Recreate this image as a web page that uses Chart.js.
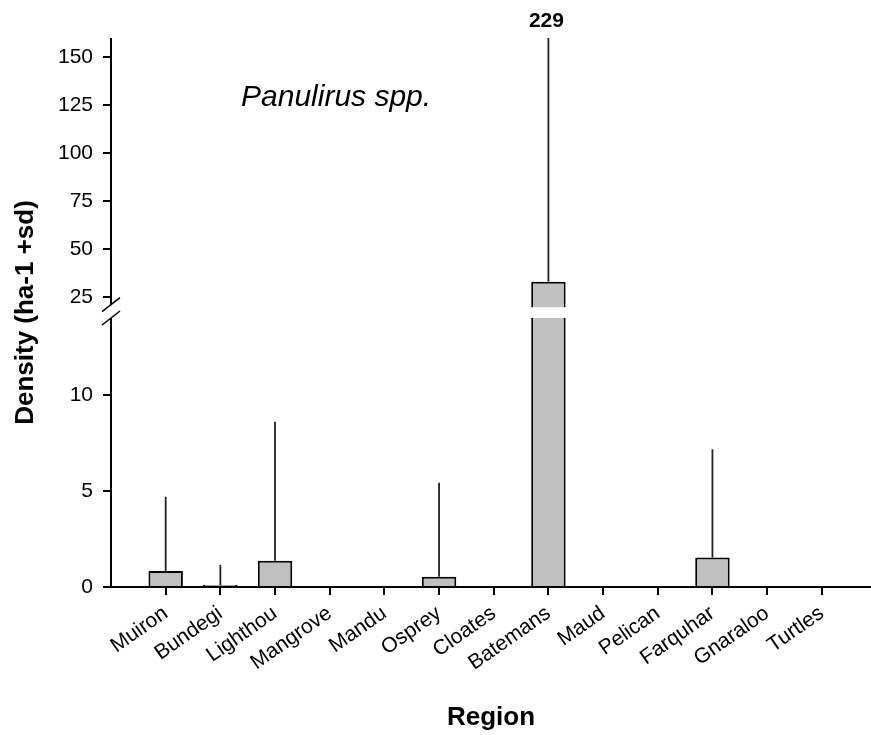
<!DOCTYPE html>
<html>
<head>
<meta charset="utf-8">
<title>Panulirus spp. density by region</title>
<script src="https://cdn.jsdelivr.net/npm/chart.js@4/dist/chart.umd.min.js"></script>
<style>
  html, body { margin: 0; padding: 0; background: #fff; }
  canvas { display: block; }
</style>
</head>
<body>
<canvas id="chart" width="871" height="735"></canvas>
<script>
// Survey regions along the x axis
const regions = ['Muiron', 'Bundegi', 'Lighthou', 'Mangrove', 'Mandu', 'Osprey', 'Cloates',
                 'Batemans', 'Maud', 'Pelican', 'Farquhar', 'Gnaraloo', 'Turtles'];
// Mean density (ha-1) per region
const meanDensity = [0.83, 0.1, 1.37, 0, 0, 0.54, 0, 33, 0, 0, 1.53, 0, 0];
// Standard deviation (drawn as an upward whisker only)
const sdDensity = [3.87, 1.05, 7.23, 0, 0, 4.89, 0, 196, 0, 0, 5.64, 0, 0];
// Tick values on the broken density axis
const yTickValues = [0, 5, 10, 25, 50, 75, 100, 125, 150];

const FONT = "'Liberation Sans', Arial, Helvetica, sans-serif";
Chart.defaults.font.family = FONT;
Chart.defaults.color = '#000';

// Linear scale with a break: a stretched lower segment and a compressed upper segment
class BrokenLinearScale extends Chart.LinearScale {
  static id = 'brokenLinear';
  static defaults = {};
  _decimalFor(value) {
    const b = this.options.brk;
    const min = this.min, max = this.max;
    if (value <= b.low) return (value - min) / (b.low - min) * b.lowFrac;
    if (value < b.high) return b.lowFrac + (value - b.low) / (b.high - b.low) * (b.highFrac - b.lowFrac);
    return b.highFrac + (value - b.high) / (max - b.high) * (1 - b.highFrac);
  }
  getPixelForValue(value) {
    if (value === null || value === undefined || isNaN(value)) return NaN;
    return this.getPixelForDecimal(this._decimalFor(value));
  }
  getValueForPixel(pixel) {
    const b = this.options.brk;
    const d = this.getDecimalForPixel(pixel);
    if (d <= b.lowFrac) return this.min + d / b.lowFrac * (b.low - this.min);
    if (d < b.highFrac) return b.low + (d - b.lowFrac) / (b.highFrac - b.lowFrac) * (b.high - b.low);
    return b.high + (d - b.highFrac) / (1 - b.highFrac) * (this.max - b.high);
  }
}
Chart.register(BrokenLinearScale);

// Draws the whiskers, the broken axis line, the bar break and the species label
const decorations = {
  id: 'decorations',
  afterDatasetsDraw(chart) {
    const ctx = chart.ctx;
    const y = chart.scales.y;
    const area = chart.chartArea;
    const brk = y.options.brk;
    const gapTop = y.getPixelForValue(brk.high);
    const gapBottom = y.getPixelForValue(brk.low);
    const bars = chart.getDatasetMeta(0).data;

    ctx.save();
    // white break through bars that cross the axis break
    bars.forEach((bar, i) => {
      if (meanDensity[i] > brk.low) {
        ctx.fillStyle = '#fff';
        ctx.fillRect(bar.x - bar.width / 2 - 1, gapTop + 2.5, bar.width + 2, (gapBottom - 4) - (gapTop + 2.5));
      }
    });

    // upward standard deviation whiskers
    ctx.strokeStyle = '#222';
    ctx.lineWidth = 1.8;
    bars.forEach((bar, i) => {
      if (!sdDensity[i]) return;
      const topVal = meanDensity[i] + sdDensity[i];
      const y0 = y.getPixelForValue(meanDensity[i]);
      const y1 = Math.max(y.getPixelForValue(topVal), area.top);
      ctx.beginPath();
      ctx.moveTo(bar.x, y0);
      ctx.lineTo(bar.x, y1);
      ctx.stroke();
      if (topVal > y.max) {
        ctx.fillStyle = '#000';
        ctx.font = 'bold 21px ' + FONT;
        ctx.textAlign = 'center';
        ctx.textBaseline = 'middle';
        ctx.fillText(String(Math.round(topVal)), bar.x - 2, area.top - 17);
      }
    });

    // broken y axis line with slash marks
    const ax = area.left;
    const upperSlash = gapTop;
    const lowerSlash = gapBottom - 4;
    ctx.strokeStyle = '#000';
    ctx.lineWidth = 2;
    ctx.beginPath();
    ctx.moveTo(ax, area.top);
    ctx.lineTo(ax, upperSlash);
    ctx.moveTo(ax, lowerSlash);
    ctx.lineTo(ax, area.bottom);
    ctx.stroke();
    ctx.lineWidth = 1.5;
    [upperSlash, lowerSlash].forEach(sy => {
      ctx.beginPath();
      ctx.moveTo(ax - 9, sy + 7);
      ctx.lineTo(ax + 9, sy - 7);
      ctx.stroke();
    });

    // species label
    ctx.fillStyle = '#000';
    ctx.font = 'italic 30px ' + FONT;
    ctx.textAlign = 'left';
    ctx.textBaseline = 'alphabetic';
    ctx.fillText('Panulirus spp.', area.left + 130, area.top + 68);
    ctx.restore();
  }
};

new Chart(document.getElementById('chart'), {
  type: 'bar',
  data: {
    datasets: [{
      data: regions.map((r, i) => ({ x: i + 1, y: meanDensity[i] })),
      backgroundColor: '#c0c0c0',
      borderColor: '#000',
      borderWidth: 2,
      barPercentage: 0.63,
      categoryPercentage: 1
    }]
  },
  options: {
    responsive: false,
    animation: false,
    devicePixelRatio: 1,
    layout: { padding: { top: 38, right: 0, bottom: 0, left: 0 } },
    plugins: { legend: { display: false }, tooltip: { enabled: false } },
    scales: {
      x: {
        type: 'linear',
        min: 0,
        max: 13.9,
        offset: false,
        afterBuildTicks: (axis) => { axis.ticks = regions.map((r, i) => ({ value: i + 1 })); },
        afterFit: (axis) => { axis.height = 148; },
        ticks: {
          autoSkip: false,
          includeBounds: false,
          minRotation: 35,
          maxRotation: 35,
          padding: 6,
          font: { size: 21 },
          color: '#000',
          callback: (v) => regions[Math.round(v) - 1] || ''
        },
        grid: {
          display: true,
          offset: false,
          drawOnChartArea: false,
          drawTicks: true,
          tickLength: 8,
          color: '#000',
          lineWidth: 2
        },
        border: { display: true, color: '#000', width: 2 },
        title: {
          display: true,
          text: 'Region',
          font: { size: 26, weight: 'bold' },
          color: '#000',
          padding: { top: 0, bottom: 2 }
        }
      },
      y: {
        type: 'brokenLinear',
        min: 0,
        max: 160,
        brk: { low: 13.8, high: 21, lowFrac: 0.4827, highFrac: 0.5142 },
        afterBuildTicks: (axis) => { axis.ticks = yTickValues.map(v => ({ value: v })); },
        afterFit: (axis) => { axis.width = 111; },
        ticks: {
          padding: 10,
          font: { size: 21 },
          color: '#000',
          callback: (v) => String(v)
        },
        grid: {
          display: true,
          drawOnChartArea: false,
          drawTicks: true,
          tickLength: 8,
          color: '#000',
          lineWidth: 2
        },
        border: { display: false },
        title: {
          display: true,
          text: 'Density (ha-1 +sd)',
          font: { size: 26, weight: 'bold' },
          color: '#000',
          padding: { top: 10, bottom: 0 }
        }
      }
    }
  },
  plugins: [decorations]
});
</script>
</body>
</html>
